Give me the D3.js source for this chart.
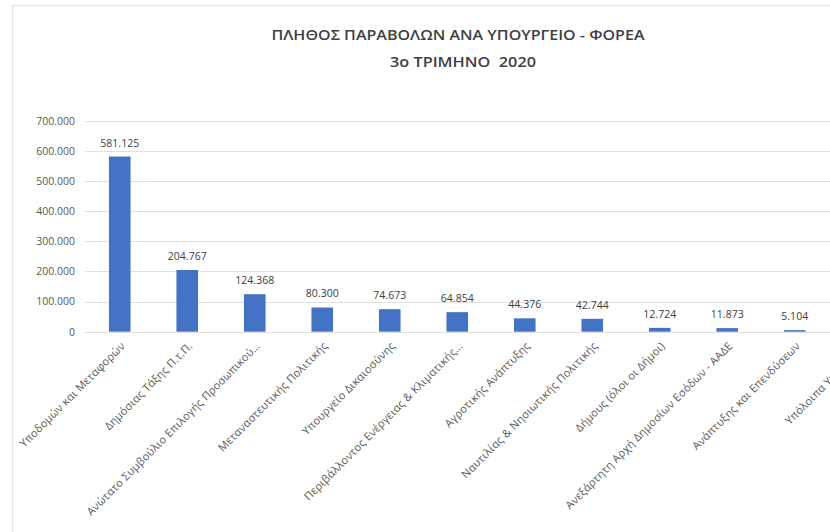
<!DOCTYPE html>
<html>
<head>
<meta charset="utf-8">
<script src="https://cdn.jsdelivr.net/npm/d3@7/dist/d3.min.js"></script>
<style>
  html, body { margin: 0; padding: 0; background: #ffffff; overflow: hidden; }
  svg { display: block; font-family: "Open Sans", "Noto Sans", sans-serif; }
</style>
</head>
<body>
<svg id="chart" width="830" height="532"></svg>
<script>
// Fees per ministry / body, Q3 2020
const categories = [
  "Υποδομών και Μεταφορών",
  "Δημόσιας Τάξης Π.τ.Π.",
  "Ανώτατο Συμβούλιο Επιλογής Προσωπικού…",
  "Μεταναστευτικής Πολιτικής",
  "Υπουργείο Δικαιοσύνης",
  "Περιβάλλοντος Ενέργειας & Κλιματικής…",
  "Αγροτικής Ανάπτυξης",
  "Ναυτιλίας & Νησιωτικής Πολιτικής",
  "Δήμους (όλοι οι Δήμοι)",
  "Ανεξάρτητη Αρχή Δημοσίων Εσόδων - ΑΑΔΕ",
  "Ανάπτυξης και Επενδύσεων",
  "Υπόλοιπα Υπουργεία"
];
// last category's value lies outside the visible area
const counts = [581125, 204767, 124368, 80300, 74673, 64854, 44376, 42744, 12724, 11873, 5104, null];
const yTicks = [0, 100000, 200000, 300000, 400000, 500000, 600000, 700000];
const titleLines = ["ΠΛΗΘΟΣ ΠΑΡΑΒΟΛΩΝ ΑΝΑ ΥΠΟΥΡΓΕΙΟ - ΦΟΡΕΑ", "3ο ΤΡΙΜΗΝΟ  2020"];

const W = 830, H = 532;
const svg = d3.select("#chart");

const el = d3.formatLocale({ decimal: ",", thousands: ".", grouping: [3], currency: ["", "€"] });
const fmt = el.format(",d");

// card outline
svg.append("rect")
  .attr("x", 12.5).attr("y", 5.5)
  .attr("width", W + 20).attr("height", H + 20)
  .attr("fill", "#ffffff")
  .attr("stroke", "#e6e6e6").attr("stroke-width", 1.5);

// title
const title = svg.append("g").attr("fill", "#404040").attr("font-weight", 600).attr("text-anchor", "middle");
title.append("text").attr("x", 458).attr("y", 40).attr("font-size", 15)
  .attr("textLength", 373).attr("lengthAdjust", "spacingAndGlyphs").text(titleLines[0]);
title.append("text").attr("x", 463).attr("y", 66.5).attr("font-size", 15)
  .attr("textLength", 146).attr("lengthAdjust", "spacingAndGlyphs")
  .style("white-space", "pre").text(titleLines[1]);

const x = d3.scaleBand()
  .domain(categories)
  .range([86, 896])
  .paddingInner(0.68)
  .paddingOuter(0.34);

const y = d3.scaleLinear()
  .domain([0, 700000])
  .range([331.7, 120.7]);

// gridlines
svg.append("g")
  .selectAll("line")
  .data(yTicks)
  .join("line")
  .attr("x1", 85).attr("x2", W)
  .attr("y1", d => Math.round(y(d)) + 0.5)
  .attr("y2", d => Math.round(y(d)) + 0.5)
  .attr("stroke", "#e0e0e0").attr("stroke-width", 1.2);

// y axis labels
const yAxis = d3.axisLeft(y).tickValues(yTicks).tickFormat(fmt).tickSize(0).tickPadding(0);
const yG = svg.append("g").attr("transform", "translate(75,0)").call(yAxis);
yG.select(".domain").remove();
yG.selectAll("text").attr("fill", "#595959").attr("font-size", 10.5)
  .attr("font-family", "'Open Sans', sans-serif");

const rows = categories.map((c, i) => ({ c, v: counts[i] })).filter(d => d.v != null);

// bars
svg.append("g")
  .selectAll("rect")
  .data(rows)
  .join("rect")
  .attr("x", d => x(d.c))
  .attr("width", x.bandwidth())
  .attr("y", d => y(d.v))
  .attr("height", d => y(0) - y(d.v))
  .attr("fill", "#4472c4");

// value labels
svg.append("g")
  .selectAll("text")
  .data(rows)
  .join("text")
  .attr("x", d => x(d.c) + x.bandwidth() / 2)
  .attr("y", d => y(d.v) - 10)
  .attr("text-anchor", "middle")
  .attr("fill", "#404040")
  .attr("font-size", 10.5)
  .text(d => fmt(d.v));

// category axis labels
const xAxis = d3.axisBottom(x).tickSize(0).tickPadding(0);
const xG = svg.append("g").attr("transform", `translate(0,${y(0)})`).call(xAxis);
xG.select(".domain").remove();
xG.selectAll("text")
  .attr("fill", "#595959")
  .attr("font-size", 11)
  .attr("letter-spacing", 0.2)
  .attr("font-family", "'Open Sans', sans-serif")
  .attr("text-anchor", "end")
  .attr("dy", null)
  .attr("y", 0)
  .attr("transform", "translate(6,15) rotate(-45)");
</script>
</body>
</html>
